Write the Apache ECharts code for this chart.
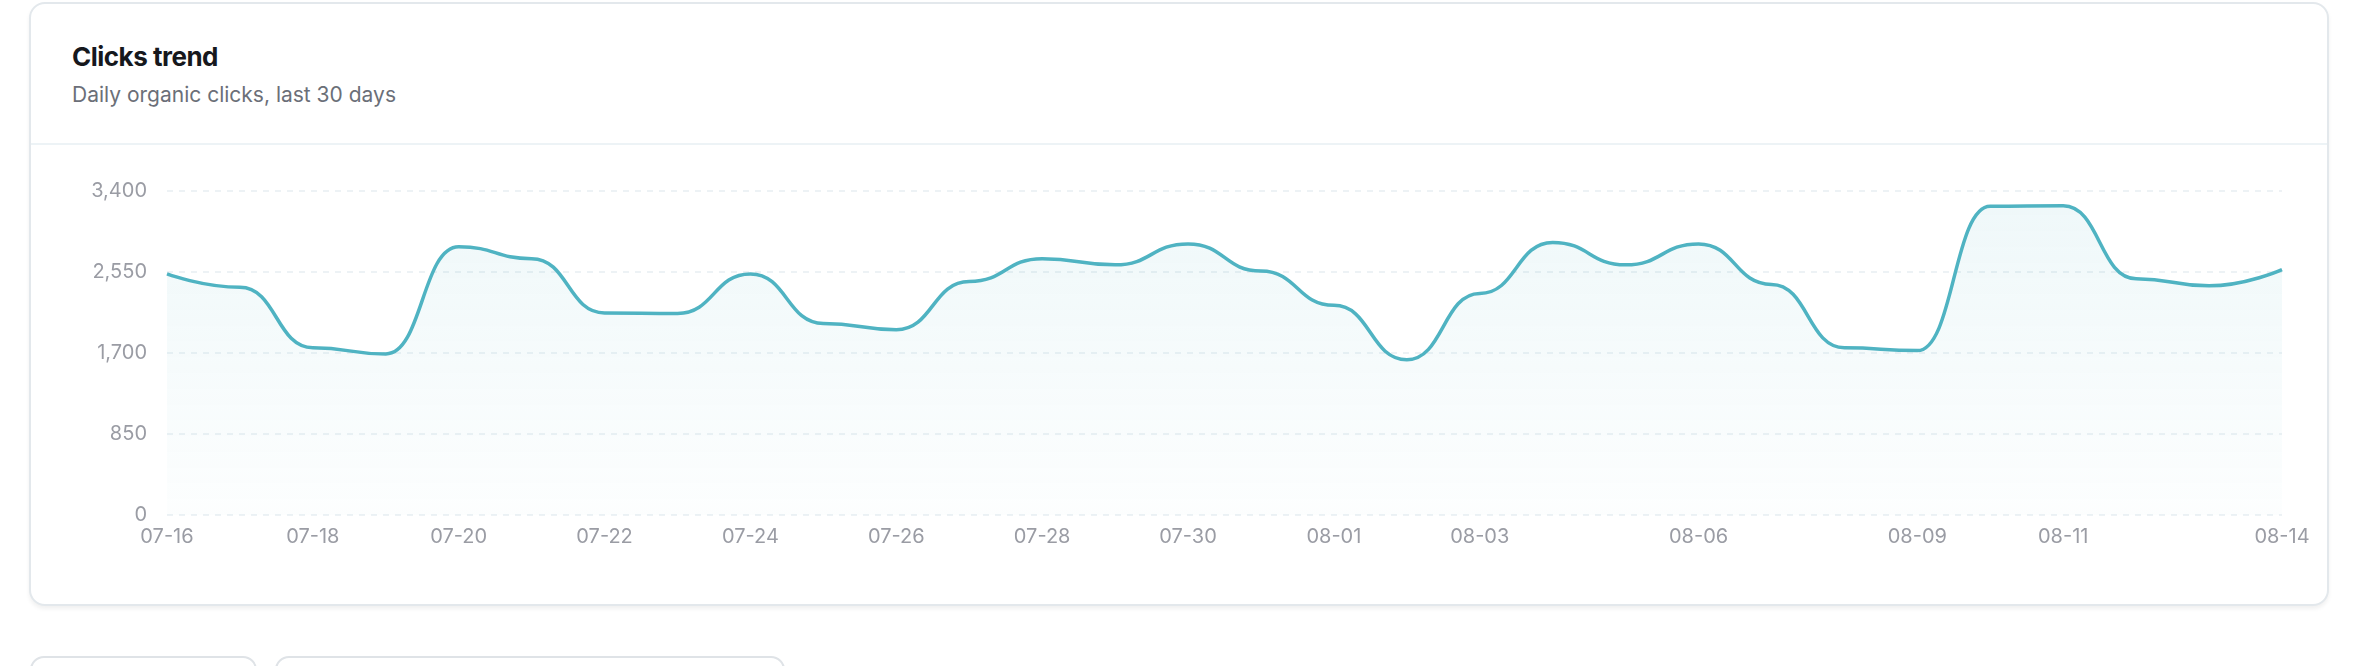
<!DOCTYPE html>
<html><head><meta charset="utf-8">
<script src="https://cdn.jsdelivr.net/npm/echarts@6/dist/echarts.min.js"></script>
<style>
html,body{margin:0;padding:0;width:2360px;height:666px;background:#fff;font-family:Inter,"Noto Sans",sans-serif;overflow:hidden}
.card{position:absolute;left:29px;top:2px;width:2300px;height:604px;border:2px solid #e3e8ec;border-radius:16px;box-shadow:0 3px 4px rgba(0,0,0,0.06);box-sizing:border-box;background:#fff}
.title{position:absolute;left:41px;top:37px;font-size:26px;font-weight:700;color:#16181d;letter-spacing:-0.5px}
.sub{position:absolute;left:41px;top:78px;font-size:21px;color:#6b6f78}
.div{position:absolute;left:0;right:0;top:139px;height:2px;background:#edf3f6}
#chart{position:absolute;left:0;top:0;width:2360px;height:666px}
.pill{position:absolute;top:656px;height:30px;border:2px solid #dfe3e7;border-radius:14px;box-sizing:border-box}
</style></head><body>
<div class="card"><div class="title">Clicks trend</div><div class="sub">Daily organic clicks, last 30 days</div><div class="div"></div></div>
<div class="pill" style="left:30px;width:227px"></div>
<div class="pill" style="left:275px;width:510px"></div>
<div id="chart"></div>
<script>
const dates = ["07-16","07-17","07-18","07-19","07-20","07-21","07-22","07-23","07-24","07-25","07-26","07-27","07-28","07-29","07-30","07-31","08-01","08-02","08-03","08-04","08-05","08-06","08-07","08-08","08-09","08-10","08-11","08-12","08-13","08-14"];
const clicks = [2530,2390,1755,1690,2815,2690,2120,2115,2530,2010,1945,2450,2690,2625,2845,2560,2200,1630,2325,2860,2625,2845,2420,1755,1725,3240,3245,2480,2405,2575];
const shownLabels = ["07-16","07-18","07-20","07-22","07-24","07-26","07-28","07-30","08-01","08-03","08-06","08-09","08-11","08-14"];
const yTicks = [0,850,1700,2550,3400];
const chart = echarts.init(document.getElementById('chart'));
chart.setOption({
  animation:false,
  grid:{left:167,right:78,top:191,bottom:151},
  xAxis:{type:'category',data:dates,boundaryGap:false,
    axisLine:{show:false},axisTick:{show:false},
    axisLabel:{interval:(i,v)=>shownLabels.includes(v),color:'#9a9ca4',fontSize:20,margin:12,fontFamily:'Inter'}},
  yAxis:{type:'value',min:yTicks[0],max:yTicks[yTicks.length-1],interval:850,
    axisLabel:{color:'#9a9ca4',fontSize:20,margin:20,fontFamily:'Inter'},
    splitLine:{lineStyle:{color:'#e8eef2',type:[6,6],width:1.5}}},
  series:[{type:'line',data:clicks,smooth:0.5,smoothMonotone:'x',showSymbol:false,
    lineStyle:{color:'#4fb3c2',width:3.5},
    areaStyle:{color:new echarts.graphic.LinearGradient(0,0,0,1,[{offset:0,color:'rgba(79,179,194,0.13)'},{offset:1,color:'rgba(79,179,194,0.02)'}])}}]
});
</script></body></html>
